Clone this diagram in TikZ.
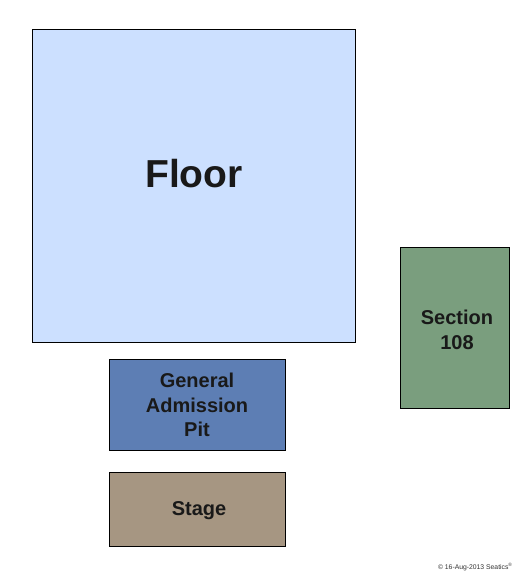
\documentclass[tikz,border=0pt]{standalone}
\usepackage{fontspec}
\setmainfont{Liberation Sans}
\definecolor{floorc}{RGB}{204,224,255}
\definecolor{pitc}{RGB}{93,126,180}
\definecolor{secc}{RGB}{122,158,126}
\definecolor{stagec}{RGB}{166,150,130}
\tikzset{
  area/.style={draw=black, line width=0.9pt, inner sep=0pt},
  lbl/.style={font=\bfseries\fontsize{20}{24.5}\selectfont, align=center, text=black!90}
}
\begin{document}
\begin{tikzpicture}[x=1pt,y=-1pt]
\useasboundingbox (0,0) rectangle (525,575);
\fill[white] (0,0) rectangle (525,575);
\draw[area, fill=floorc] (32,29) rectangle (355,342);
\node[font=\bfseries\fontsize{39}{44}\selectfont, text=black!90] (floor) at (194,174) {Floor};
\draw[area, fill=secc] (400,247) rectangle (509,408);
\node[lbl] (sec) at (457,330) {Section\\108};
\draw[area, fill=pitc] (109,359) rectangle (285,450);
\node[lbl] (pit) at (197,405) {General\\Admission\\Pit};
\draw[area, fill=stagec] (109,472) rectangle (285,546);
\node[lbl] (stage) at (199,511) {Stage};
\node[font=\fontsize{6.8}{7}\selectfont, text=black!80, anchor=east] (copy) at (516,567) {© 16-Aug-2013 Seatics\textsuperscript{®}};
\end{tikzpicture}
\end{document}
